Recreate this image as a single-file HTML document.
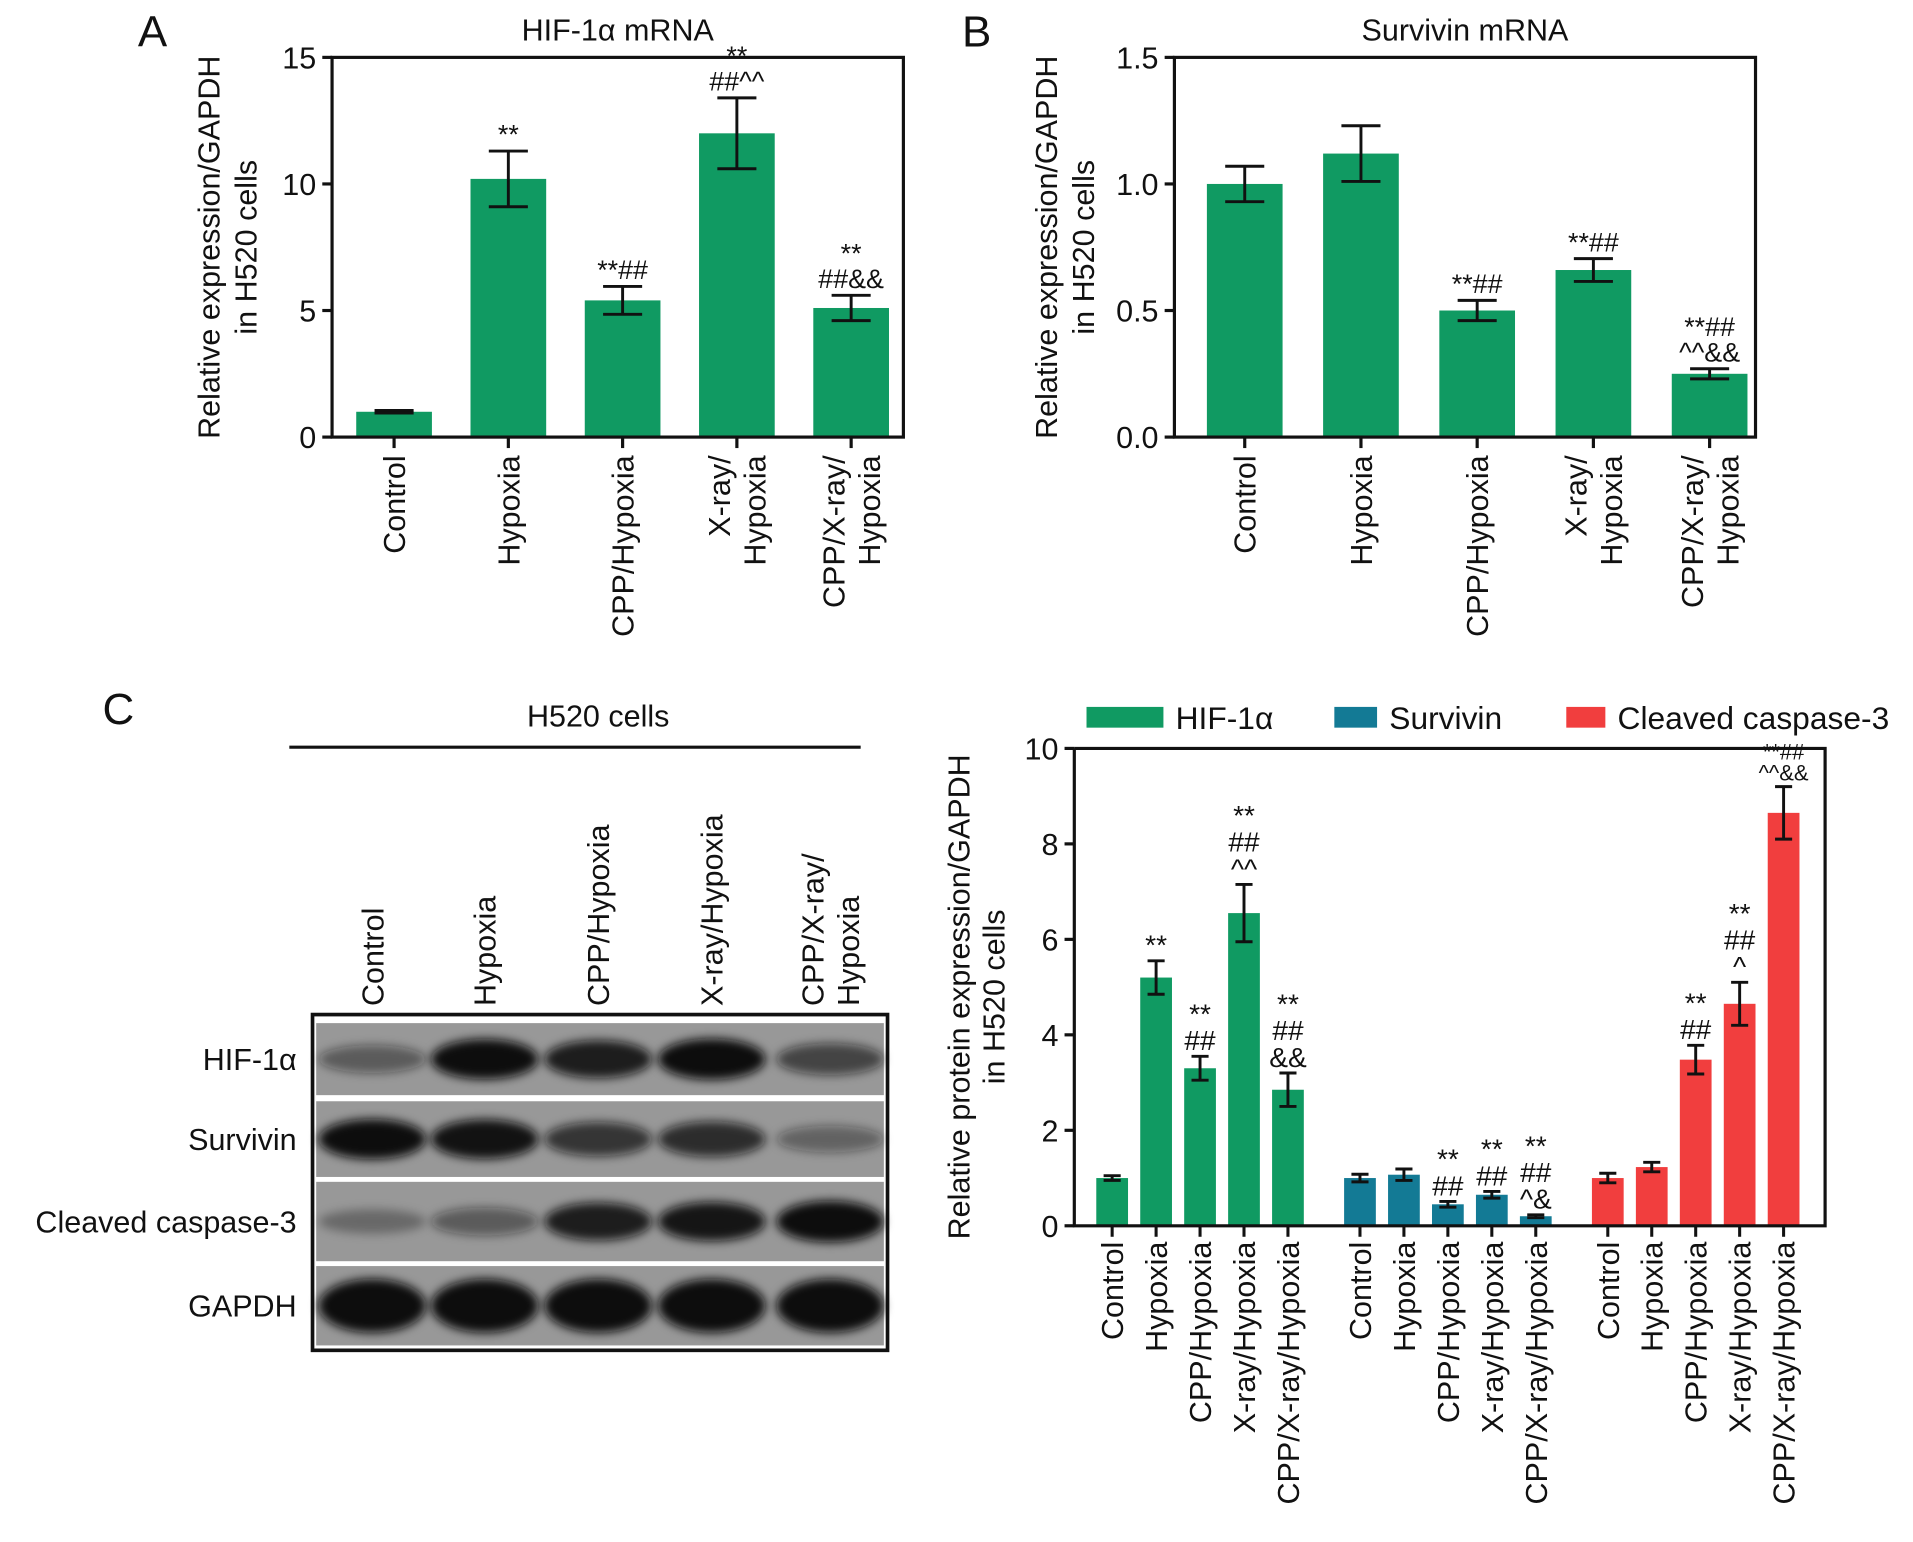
<!DOCTYPE html>
<html><head><meta charset="utf-8"><style>
html,body{margin:0;padding:0;background:#fff}
svg{display:block}
text{font-family:"Liberation Sans",sans-serif;fill:#111}
</style></head><body>
<svg id="fig" width="1913" height="1542" viewBox="0 0 1567 1263" preserveAspectRatio="none" xmlns="http://www.w3.org/2000/svg">
<defs><filter id="blur" x="-30%" y="-60%" width="160%" height="220%"><feGaussianBlur stdDeviation="4"/></filter></defs>
<g id="root"></g>
</svg>
<script>
// ---- Panel A data
const catsAB = [["Control"],["Hypoxia"],["CPP/Hypoxia"],["X-ray/","Hypoxia"],["CPP/X-ray/","Hypoxia"]];
const aVals = [1.0, 10.2, 5.4, 12.0, 5.1];
const aErr = [0.05, 1.1, 0.55, 1.4, 0.5];
const aTicks = [0, 5, 10, 15];
const aMarks = [[], ["**"], ["**##"], ["**","##^^"], ["**","##&&"]];
// ---- Panel B data
const bVals = [1.0, 1.12, 0.50, 0.66, 0.25];
const bErr = [0.07, 0.11, 0.04, 0.045, 0.02];
const bTicks = ["0.0","0.5","1.0","1.5"];
const bMarks = [[], [], ["**##"], ["**##"], ["**##","^^&&"]];
// ---- Panel C data
const cCats = ["Control","Hypoxia","CPP/Hypoxia","X-ray/Hypoxia","CPP/X-ray/Hypoxia"];
const cSeries = ["HIF-1\u03b1","Survivin","Cleaved caspase-3"];
const cHif = [1.0, 5.2, 3.3, 6.55, 2.85];
const cHifErr = [0.05, 0.35, 0.25, 0.6, 0.35];
const cSurv = [1.0, 1.07, 0.45, 0.65, 0.2];
const cSurvErr = [0.08, 0.12, 0.06, 0.07, 0.03];
const cCasp = [1.0, 1.23, 3.48, 4.65, 8.65];
const cCaspErr = [0.1, 0.1, 0.3, 0.45, 0.55];
const cTicks = [0, 2, 4, 6, 8, 10];
const cHifMarks = [[], ["**"], ["**","##"], ["**","##","^^"], ["**","##","&&"]];
const cSurvMarks = [[], [], ["**","##"], ["**","##"], ["**","##","^&"]];
const cCaspMarks = [[], [], ["**","##"], ["**","##","^"], ["**##","^^&&"]];
// ---- Blot data (band intensity per lane)
const blotRows = ["HIF-1\u03b1","Survivin","Cleaved caspase-3","GAPDH"];
const blotHif = [0.45, 0.95, 0.85, 0.98, 0.6];
const blotSurv = [0.95, 0.92, 0.7, 0.75, 0.4];
const blotCasp = [0.3, 0.45, 0.85, 0.9, 1.0];
const blotGapdh = [1.0, 1.0, 1.0, 1.0, 1.0];

const NS = "http://www.w3.org/2000/svg";
const root = document.getElementById('root');
function mk(tag, attrs, parent, txt){
  const e = document.createElementNS(NS, tag);
  for (const k in attrs) e.setAttribute(k, attrs[k]);
  if (txt !== undefined) e.textContent = txt;
  (parent || root).appendChild(e);
  return e;
}
const GREEN="#109a62", BLUE="#137a95", RED="#f13e3e";
const FS=25;

function drawErr(g, x, y1, y2, hw){
  const l1 = mk('line',{x1:x,x2:x,y1:y1,y2:y2,stroke:'#111','stroke-width':2.4},g);
  
  
  mk('line',{x1:x-hw,x2:x+hw,y1:y1,y2:y1,stroke:'#111','stroke-width':2.4},g);
  mk('line',{x1:x-hw,x2:x+hw,y1:y2,y2:y2,stroke:'#111','stroke-width':2.4},g);
}
function drawMarks(g, x, yTop, lines, fs){
  for (let i = 0; i < lines.length; i++){
    const t = mk('text',{x:x,y:yTop - (lines.length-1-i)*fs*0.95 - 4,'text-anchor':'middle','font-size':fs},g,lines[i]);
    
    
  }
}

function panelAB(opt){
  const g = mk('g',{});
  
  
  const L=opt.L,R=opt.R,T=opt.T,B=opt.B;
  const y = v => B - (v/opt.max)*(B-T);
  const n = opt.vals.length, step=(R-L)/n;
  const xc = i => L + step*(i+0.5) + opt.shift;
  opt.vals.forEach((v,i)=>{
    const b = mk('rect',{x:xc(i)-31,y:y(v),width:62,height:B-y(v),fill:GREEN},g);
    
    
    drawErr(g, xc(i), y(v+opt.err[i]), y(Math.max(0,v-opt.err[i])), 16);
    drawMarks(g, xc(i), y(v+opt.err[i]) - 2, opt.marks[i], 22);
  });
  const fr = mk('rect',{x:L,y:T,width:R-L,height:B-T,fill:'none',stroke:'#111','stroke-width':2.6},g);
  
  
  opt.ticks.forEach(t=>{
    const v = parseFloat(t);
    mk('line',{x1:L-8,x2:L,y1:y(v),y2:y(v),stroke:'#111','stroke-width':2.6},g);
    const tl = mk('text',{x:L-13,y:y(v)+9,'text-anchor':'end','font-size':FS},g,t);
    
    
  });
  opt.cats.forEach((c,i)=>{
    mk('line',{x1:xc(i),x2:xc(i),y1:B,y2:B+9,stroke:'#111','stroke-width':2.6},g);
    const lg = mk('g',{transform:`translate(${xc(i)},${B+15}) rotate(-90)`},g);
    c.forEach((s,j)=>{
      const off = (j - (c.length-1)/2)*29 + 9;
      const t = mk('text',{x:0,y:off,'text-anchor':'end','font-size':FS},lg,s);
      
      
    });
  });
  const yt = mk('g',{transform:`translate(${opt.ytx},${(T+B)/2}) rotate(-90)`},g);
  
  
  mk('text',{x:0,y:0,'text-anchor':'middle','font-size':FS},yt,'Relative expression/GAPDH');
  mk('text',{x:0,y:30,'text-anchor':'middle','font-size':FS},yt,'in H520 cells');
  const ti = mk('text',{x:(L+R)/2,y:T-14,'text-anchor':'middle','font-size':FS},g,opt.title);
  
  
  const pl = mk('text',{x:opt.lx,y:38,'font-size':36,'text-anchor':'middle'},g,opt.letter);
  
  
}
panelAB({name:'panel-a-chart',L:272,R:740,T:47,B:358,max:15,vals:aVals,err:aErr,ticks:aTicks.map(String),marks:aMarks,cats:catsAB,shift:4,ytx:180,title:'HIF-1\u03b1 mRNA',letter:'A',lx:125});
panelAB({name:'panel-b-chart',L:962,R:1438,T:47,B:358,max:1.5,vals:bVals,err:bErr,ticks:bTicks,marks:bMarks,cats:catsAB,shift:10,ytx:866,title:'Survivin mRNA',letter:'B',lx:800});

// ---- Panel C blot
(function(){
  const g = mk('g',{});
  
  
  const pl = mk('text',{x:97,y:593,'font-size':36,'text-anchor':'middle'},g,'C');
  
  
  const hc = mk('text',{x:490,y:595,'font-size':FS,'text-anchor':'middle'},g,'H520 cells');
  
  
  mk('line',{x1:237,x2:705,y1:612,y2:612,stroke:'#111','stroke-width':2.5},g);
  const lanes=[305,397,490,583,680];
  const laneLbl=[["Control"],["Hypoxia"],["CPP/Hypoxia"],["X-ray/Hypoxia"],["CPP/X-ray/","Hypoxia"]];
  laneLbl.forEach((c,i)=>{
    const lg = mk('g',{transform:`translate(${lanes[i]},824) rotate(-90)`},g);
    c.forEach((s,j)=>{
      const t = mk('text',{x:0,y:(j-(c.length-1)/2)*29+9,'font-size':FS},lg,s);
      
      
    });
  });
  mk('rect',{x:256,y:831,width:471,height:275,fill:'#fff',stroke:'#111','stroke-width':3},g);
  const rowsY=[[838,897],[902,964],[968,1033],[1037,1102]];
  const data=[blotHif,blotSurv,blotCasp,blotGapdh];
  rowsY.forEach((r,ri)=>{
    mk('rect',{x:259,y:r[0],width:465,height:r[1]-r[0],fill:'#989898'},g);
    const cy=(r[0]+r[1])/2;
    data[ri].forEach((v,i)=>{
      const ry = ri===3 ? 22 : 7+v*10;
      const b = mk('ellipse',{cx:lanes[i],cy:cy,rx:44,ry:ry,fill:'#111','fill-opacity':Math.min(1,v*1.05),filter:'url(#blur)'},g);
      
      
    });
    const rl = mk('text',{x:243,y:cy+9,'text-anchor':'end','font-size':FS},g,blotRows[ri]);
    
    
  });
})();

// ---- Panel C chart
(function(){
  const g = mk('g',{});
  
  
  const L=880,R=1495,T=613,B=1004,max=10;
  const y=v=>B-(v/max)*(B-T);
  const groupStart=[911,1114,1317], sp=36;
  const series=[[cHif,cHifErr,cHifMarks,GREEN],[cSurv,cSurvErr,cSurvMarks,BLUE],[cCasp,cCaspErr,cCaspMarks,RED]];
  series.forEach((s,si)=>{
    s[0].forEach((v,i)=>{
      const x=groupStart[si]+i*sp;
      const b = mk('rect',{x:x-13,y:y(v),width:26,height:B-y(v),fill:s[3]},g);
      
      
      drawErr(g,x,y(v+s[1][i]),y(Math.max(0,v-s[1][i])),7);
      drawMarks(g,x,y(v+s[1][i])-1,s[2][i],s[2][i].length>0&&s[2][i][0].length>2?18:23);
      mk('line',{x1:x,x2:x,y1:B,y2:B+9,stroke:'#111','stroke-width':2.5},g);
      const t = mk('text',{x:0,y:0,'text-anchor':'end','font-size':FS,transform:`translate(${x+9},${B+13}) rotate(-90)`},g,cCats[i]);
      
      
    });
  });
  mk('polyline',{points:`${L},${T} ${L},${B} ${R},${B} ${R},${T} ${L},${T}`,fill:'none',stroke:'#111','stroke-width':2.6},g);
  cTicks.forEach(v=>{
    mk('line',{x1:L-8,x2:L,y1:y(v),y2:y(v),stroke:'#111','stroke-width':2.6},g);
    const t = mk('text',{x:L-13,y:y(v)+9,'text-anchor':'end','font-size':FS},g,String(v));
    
    
  });
  const yt = mk('g',{transform:`translate(${794},${(T+B)/2+8}) rotate(-90)`},g);
  
  
  mk('text',{x:0,y:0,'text-anchor':'middle','font-size':FS},yt,'Relative protein expression/GAPDH');
  mk('text',{x:0,y:29,'text-anchor':'middle','font-size':FS},yt,'in H520 cells');
  const leg=[[890,963],[1093,1138],[1283,1325]];
  cSeries.forEach((s,i)=>{
    const lg = mk('g',{},g);
    
    
    mk('rect',{x:leg[i][0],y:579,width:leg[i][1]-leg[i][0]-10,height:17,fill:series[i][3]},lg);
    mk('text',{x:leg[i][1],y:597,'font-size':26},lg,s);
  });
})();
</script>
</body></html>
